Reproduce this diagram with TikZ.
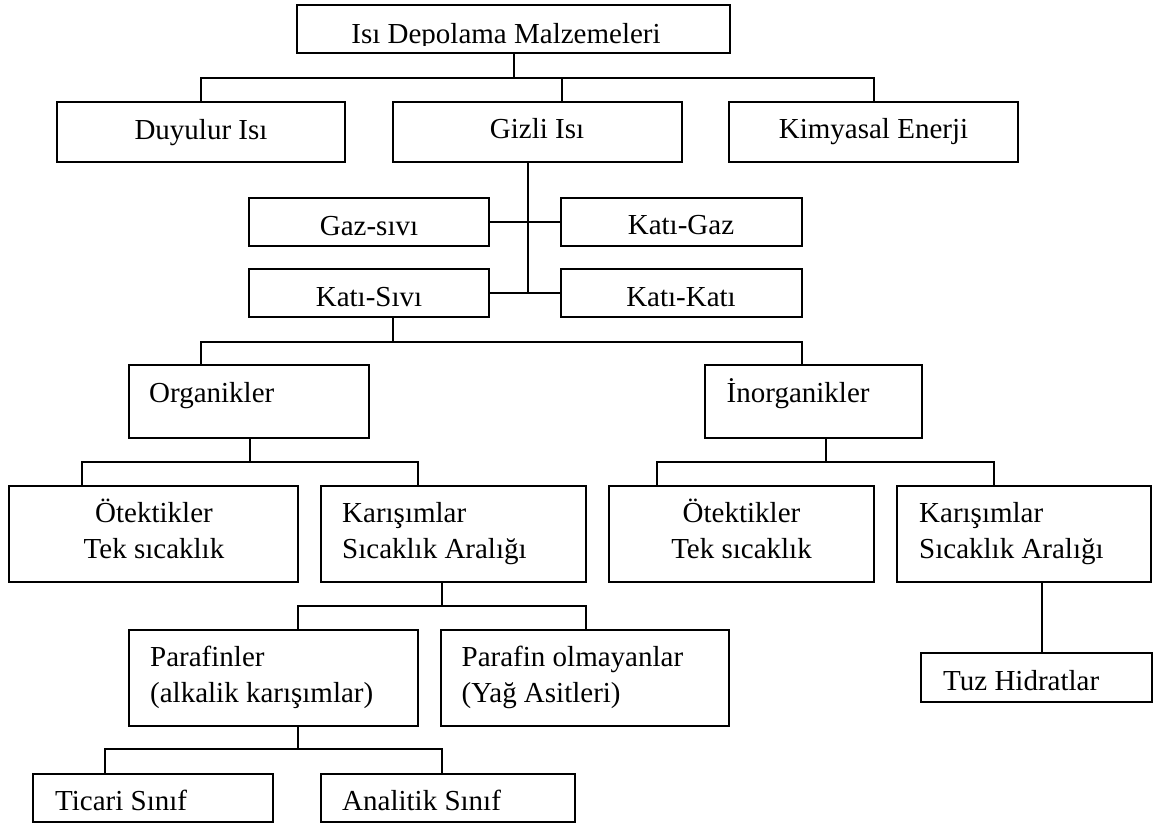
\documentclass[tikz,border=0pt]{standalone}
\usepackage{fontspec}
\setmainfont{Liberation Serif}
\newcommand{\twolinec}[2]{\begin{tabular}[t]{@{}c@{}}#1\\#2\end{tabular}}
\newcommand{\twolinel}[2]{\begin{tabular}[t]{@{}l@{}}#1\\#2\end{tabular}}
\begin{document}
\begin{tikzpicture}[x=1pt,y=-1pt,
  box/.style={draw=black, rectangle, line width=2pt, inner sep=0pt, outer sep=1pt},
  conn/.style={draw=black, line width=2pt},
  txt/.style={inner sep=0pt, anchor=base, font=\fontsize{29}{35.5}\selectfont},
  txtl/.style={inner sep=0pt, anchor=base west, font=\fontsize{29}{35.5}\selectfont}]
\useasboundingbox (0,0) rectangle (1161,825);
\fill[white] (0,0) rectangle (1161,825);

% boxes
\node[box, minimum width=433pt, minimum height=48pt] (top) at (513.5,29) {};
\node[box, minimum width=288pt, minimum height=60pt] (duy) at (201,132) {};
\node[box, minimum width=289pt, minimum height=60pt] (giz) at (537.5,132) {};
\node[box, minimum width=289pt, minimum height=60pt] (kim) at (873.5,132) {};
\node[box, minimum width=240pt, minimum height=48pt] (gaz) at (369,222) {};
\node[box, minimum width=241pt, minimum height=48pt] (kgaz) at (681.5,222) {};
\node[box, minimum width=240pt, minimum height=48pt] (ksiv) at (369,293) {};
\node[box, minimum width=241pt, minimum height=48pt] (kkat) at (681.5,293) {};
\node[box, minimum width=240pt, minimum height=73pt] (org) at (249,401.5) {};
\node[box, minimum width=217pt, minimum height=73pt] (inorg) at (813.5,401.5) {};
\node[box, minimum width=289pt, minimum height=96pt] (ot1) at (153.5,534) {};
\node[box, minimum width=265pt, minimum height=96pt] (kar1) at (453.5,534) {};
\node[box, minimum width=265pt, minimum height=96pt] (ot2) at (741.5,534) {};
\node[box, minimum width=254pt, minimum height=96pt] (kar2) at (1024,534) {};
\node[box, minimum width=289pt, minimum height=96pt] (paraf) at (273.5,678) {};
\node[box, minimum width=288pt, minimum height=96pt] (pnon) at (585,678) {};
\node[box, minimum width=231pt, minimum height=49pt] (tuz) at (1036.5,677.5) {};
\node[box, minimum width=240pt, minimum height=48pt] (tic) at (153,798) {};
\node[box, minimum width=254pt, minimum height=48pt] (ana) at (448,798) {};

% texts
\begin{scope}
\clip (297,5) rectangle (730,45.5);
\node[txt] (ttop) at (506,43) {Isı Depolama Malzemeleri};
\end{scope}
\node[txt] (tduy) at (201,139.5) {Duyulur Isı};
\node[txt] (tgiz) at (537,138.5) {Gizli Isı};
\node[txt] (tkim) at (873.5,138.5) {Kimyasal Enerji};
\node[txt] (tgaz) at (369,235) {Gaz-sıvı};
\node[txt] (tkgaz) at (681,234.5) {Katı-Gaz};
\node[txt] (tksiv) at (369,306.5) {Katı-Sıvı};
\node[txt] (tkkat) at (681,306.5) {Katı-Katı};
\node[txtl] (torg) at (149,402.5) {Organikler};
\node[txtl] (tinorg) at (726.5,402.5) {İnorganikler};
\node[txt] (tot1) at (154,522.5) {\twolinec{Ötektikler}{Tek sıcaklık}};
\node[txtl] (tkar1) at (342,522.5) {\twolinel{Karışımlar}{Sıcaklık Aralığı}};
\node[txt] (tot2) at (741.5,522.5) {\twolinec{Ötektikler}{Tek sıcaklık}};
\node[txtl] (tkar2) at (919,522.5) {\twolinel{Karışımlar}{Sıcaklık Aralığı}};
\node[txtl] (tparaf) at (150,666.5) {\twolinel{Parafinler}{(alkalik karışımlar)}};
\node[txtl] (tpnon) at (461.5,666.5) {\twolinel{Parafin olmayanlar}{(Yağ Asitleri)}};
\node[txtl] (ttuz) at (943,690) {Tuz Hidratlar};
\node[txtl] (ttic) at (55,810) {Ticari Sınıf};
\node[txtl] (tana) at (342,810) {Analitik Sınıf};

% bus levels
\coordinate (bus1) at (0,78);
\coordinate (bus2) at (0,342);
\coordinate (bus3) at (0,462);
\coordinate (bus4) at (0,606);
\coordinate (bus5) at (0,749);

% connectors
\draw[conn] (top.south) -- (top.south |- bus1);
\draw[conn] (duy.north) |- (kim.north |- bus1) -- (kim.north);
\draw[conn] ([xshift=24.5pt]giz.north) -- ([xshift=24.5pt]giz.north |- bus1);

\draw[conn] ([xshift=-10pt]giz.south) -- ([xshift=-10pt]giz.south |- ksiv.east);
\draw[conn] (gaz.east) -- (kgaz.west);
\draw[conn] (ksiv.east) -- (kkat.west);

\draw[conn] ([xshift=24pt]ksiv.south) -- ([xshift=24pt]ksiv.south |- bus2);
\draw[conn] ([xshift=-48pt]org.north) |- ([xshift=-11.5pt]inorg.north |- bus2) -- ([xshift=-11.5pt]inorg.north);

\draw[conn] ([xshift=1pt]org.south) -- ([xshift=1pt]org.south |- bus3);
\draw[conn] ([xshift=-71.5pt]ot1.north) |- ([xshift=-35.5pt]kar1.north |- bus3) -- ([xshift=-35.5pt]kar1.north);

\draw[conn] ([xshift=12.5pt]inorg.south) -- ([xshift=12.5pt]inorg.south |- bus3);
\draw[conn] ([xshift=-84.5pt]ot2.north) |- ([xshift=-30pt]kar2.north |- bus3) -- ([xshift=-30pt]kar2.north);

\draw[conn] ([xshift=-12pt]kar1.south) -- ([xshift=-12pt]kar1.south |- bus4);
\draw[conn] ([xshift=24.5pt]paraf.north) |- ([xshift=1pt]pnon.north |- bus4) -- ([xshift=1pt]pnon.north);

\draw[conn] ([xshift=17.5pt]kar2.south) -- ([xshift=17.5pt]kar2.south |- tuz.north);

\draw[conn] ([xshift=24pt]paraf.south) -- ([xshift=24pt]paraf.south |- bus5);
\draw[conn] ([xshift=-48pt]tic.north) |- ([xshift=-6pt]ana.north |- bus5) -- ([xshift=-6pt]ana.north);
\end{tikzpicture}
\end{document}
